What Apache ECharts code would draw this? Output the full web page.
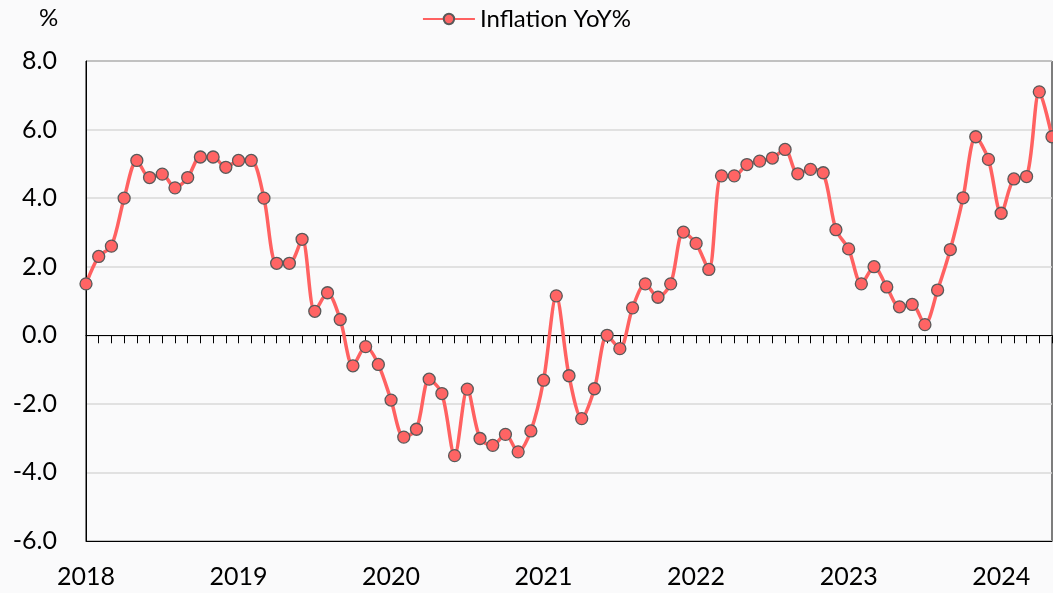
<!DOCTYPE html>
<html>
<head>
<meta charset="utf-8">
<script src="https://cdn.jsdelivr.net/npm/echarts@6/dist/echarts.min.js"></script>
<style>
  html, body { margin: 0; padding: 0; background: #fafafb; }
  #chart { width: 1053px; height: 593px; }
</style>
</head>
<body>
<div id="chart"></div>
<script>
// Monthly inflation, year-on-year %, January 2018 to May 2024
const years = ['2018', '2019', '2020', '2021', '2022', '2023', '2024'];
const y2018 = [1.5, 2.3, 2.6, 4.0, 5.1, 4.6, 4.7, 4.3, 4.6, 5.2, 5.2, 4.9];
const y2019 = [5.1, 5.1, 4.0, 2.1, 2.1, 2.8, 0.7, 1.24, 0.46, -0.89, -0.33, -0.85];
const y2020 = [-1.89, -2.97, -2.74, -1.28, -1.7, -3.51, -1.57, -3.01, -3.21, -2.89, -3.4, -2.79];
const y2021 = [-1.31, 1.15, -1.18, -2.43, -1.56, 0.0, -0.39, 0.8, 1.5, 1.11, 1.5, 3.01];
const y2022 = [2.68, 1.92, 4.65, 4.65, 4.98, 5.08, 5.17, 5.42, 4.71, 4.84, 4.74, 3.08];
const y2023 = [2.52, 1.5, 2.0, 1.41, 0.83, 0.9, 0.31, 1.32, 2.5, 4.01, 5.79, 5.13];
const y2024 = [3.56, 4.56, 4.63, 7.1, 5.79];
const yTicks = { min: -6, max: 8, step: 2 };

const yearly = [y2018, y2019, y2020, y2021, y2022, y2023, y2024];
const categories = [];
const values = [];
yearly.forEach((arr, yi) => {
  arr.forEach((v, mi) => {
    categories.push(years[yi] + '-' + String(mi + 1).padStart(2, '0'));
    values.push(v);
  });
});

const FONT = 'Lato';
const chart = echarts.init(document.getElementById('chart'), null, { renderer: 'canvas' });
chart.setOption({
  backgroundColor: '#fafafb',
  animation: false,
  textStyle: { fontFamily: FONT, color: '#000' },
  title: {
    text: '%',
    left: 34,
    top: 1,
    textStyle: { fontFamily: FONT, fontSize: 24, fontWeight: 'normal', color: '#000' }
  },
  legend: {
    top: 2,
    left: 'center',
    itemWidth: 52,
    itemHeight: 13,
    itemGap: 8,
    textStyle: { fontFamily: FONT, fontSize: 24, color: '#000' },
    data: ['Inflation YoY%']
  },
  grid: {
    left: 86, right: 1, top: 61, bottom: 52,
    show: true,
    borderColor: '#000',
    borderWidth: 1,
    backgroundColor: 'transparent'
  },
  xAxis: [
    {
      type: 'category',
      data: categories,
      boundaryGap: false,
      position: 'bottom',
      axisLine: { onZero: false, lineStyle: { color: '#000', width: 1 } },
      axisTick: { show: false },
      splitLine: { show: false },
      axisLabel: {
        interval: (i) => i % 12 === 0,
        formatter: (v) => v.slice(0, 4),
        fontFamily: FONT,
        fontSize: 25,
        color: '#000',
        margin: 23
      }
    },
    {
      type: 'category',
      data: categories,
      boundaryGap: false,
      position: 'bottom',
      axisLine: { onZero: true, lineStyle: { color: '#000', width: 1 } },
      axisTick: { show: true, interval: 0, length: 8, inside: false, lineStyle: { color: '#000', width: 1 } },
      axisLabel: { show: false },
      splitLine: { show: false }
    }
  ],
  yAxis: {
    type: 'value',
    min: yTicks.min,
    max: yTicks.max,
    interval: yTicks.step,
    axisLine: { show: true, lineStyle: { color: '#000' } },
    axisTick: { show: false },
    splitLine: { show: true, lineStyle: { color: '#d9d9d9', width: 1.5 } },
    axisLabel: {
      formatter: (v) => v.toFixed(1),
      fontFamily: FONT,
      fontSize: 25,
      color: '#000',
      margin: 29
    }
  },
  series: [
    {
      name: 'Inflation YoY%',
      type: 'line',
      xAxisIndex: 0,
      data: values,
      smooth: 0.3,
      symbol: 'circle',
      symbolSize: 12,
      showAllSymbol: true,
      lineStyle: { color: '#ff6161', width: 3.5 },
      itemStyle: { color: '#ff6464', borderColor: '#595959', borderWidth: 1.3 },
      z: 5
    }
  ]
});
</script>
</body>
</html>
